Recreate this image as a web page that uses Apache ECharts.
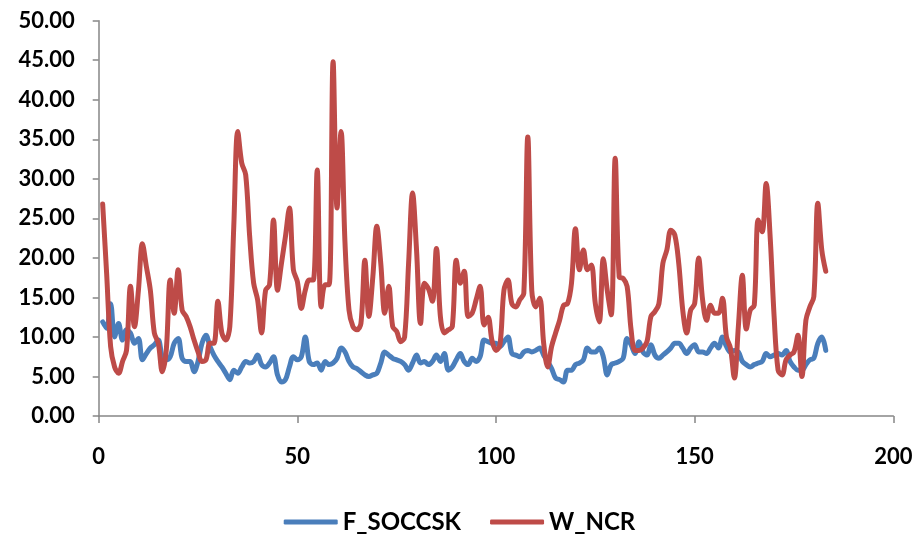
<!DOCTYPE html>
<html><head><meta charset="utf-8">
<script src="https://cdn.jsdelivr.net/npm/echarts@6/dist/echarts.min.js"></script>
<style>html,body{margin:0;padding:0;background:#fff}#c{width:919px;height:541px}</style>
</head><body><div id="c"></div>
<script>
const seriesNames = ['F_SOCCSK', 'W_NCR'];
const xTickValues = [0, 50, 100, 150, 200];
const yTickValues = [0, 5, 10, 15, 20, 25, 30, 35, 40, 45, 50];
const firstX = 1;
const F_SOCCSK = [
11.9,11.1,14.2,10.0,11.7,9.6,10.9,10.5,9.2,9.8,
7.1,7.9,8.6,9.0,9.6,7.5,7.1,7.5,9.2,9.8,
7.3,6.9,6.9,5.6,6.9,9.2,10.2,8.8,7.7,6.9,
6.2,5.4,4.6,5.8,5.4,6.2,6.9,6.7,6.9,7.7,
6.5,6.2,6.7,7.5,5.2,4.3,4.6,6.2,7.5,7.1,
7.5,10.0,6.9,6.5,6.7,5.8,6.9,6.5,6.7,7.3,
8.6,8.1,6.9,6.2,6.0,5.6,5.2,5.0,5.2,5.4,
6.7,8.1,7.7,7.3,7.1,6.9,6.5,5.8,6.7,7.7,
6.7,6.9,6.5,6.9,7.7,6.9,7.9,5.8,6.2,7.1,
7.9,6.9,6.5,7.3,6.9,7.5,9.6,9.4,9.2,9.2,
8.8,9.4,10.0,7.9,7.7,7.5,8.1,8.3,8.1,8.3,
8.6,7.7,6.9,6.0,4.8,4.6,4.3,5.8,5.8,6.5,
6.7,7.1,8.6,8.1,8.1,8.6,7.5,5.2,6.5,6.7,
6.9,7.3,9.8,9.0,7.9,9.4,8.1,7.7,9.0,7.7,
7.3,7.7,8.1,8.6,9.2,9.2,8.6,7.9,8.6,9.0,
8.1,8.1,7.9,8.6,9.2,8.6,10.0,8.8,8.1,8.3,
8.1,6.9,6.5,6.2,6.5,6.7,6.9,7.9,7.5,7.7,
7.9,7.7,8.3,6.9,6.2,5.8,5.8,6.5,7.1,7.3,
9.2,10.0,8.3
];
const W_NCR = [
26.8,18.0,8.8,6.2,5.4,6.9,8.3,16.4,11.3,15.9,
21.8,18.9,15.9,10.5,9.2,5.6,8.3,17.2,13.0,18.5,
13.4,12.6,11.3,9.6,8.1,6.9,7.1,9.2,9.2,14.5,
10.5,9.6,11.3,24.0,36.0,32.0,30.5,22.7,16.8,14.7,
10.5,15.9,16.6,24.8,15.9,19.3,22.7,26.3,18.5,17.0,
13.6,15.9,17.2,17.2,31.1,13.8,16.6,16.6,44.8,26.3,
36.0,21.8,13.4,11.3,10.9,11.7,19.7,12.6,17.6,24.0,
19.3,13.0,16.4,11.3,10.7,9.4,10.0,19.3,28.2,21.0,
11.7,16.8,16.1,14.5,21.2,12.6,10.5,10.9,11.3,19.7,
16.8,18.3,12.6,13.0,14.7,16.4,11.5,12.5,9.5,8.3,
9.0,15.9,17.2,14.2,13.8,14.7,15.5,35.3,15.9,13.8,
14.9,9.2,6.2,8.8,10.5,12.1,14.0,14.2,16.8,23.7,
18.5,21.0,18.5,19.1,14.2,11.9,19.9,15.9,12.8,32.6,
17.6,17.4,16.4,10.9,8.3,8.3,8.6,9.4,12.6,13.2,
14.2,19.3,21.0,23.5,22.9,19.3,13.4,10.5,13.4,14.2,
20.0,14.7,12.1,14.0,13.0,13.0,14.9,10.0,8.6,4.8,
11.3,17.8,11.0,13.4,14.0,24.8,23.3,29.4,22.7,12.6,
5.8,5.2,7.1,7.7,8.1,10.2,5.0,12.1,13.8,15.1,
26.9,21.0,18.3
];

const toPairs = arr => arr.map((v, k) => [firstX + k, v]);
const FONT = 'Lato';
const axisColor = '#868686';
const chart = echarts.init(document.getElementById('c'), null, {renderer: 'canvas'});
chart.setOption({
  animation: false,
  backgroundColor: '#fff',
  grid: {left: 98.7, right: 25.7, top: 20.7, bottom: 125, containLabel: false},
  xAxis: {
    type: 'value', min: xTickValues[0], max: xTickValues[xTickValues.length - 1],
    interval: xTickValues[1] - xTickValues[0],
    axisLine: {show: true, onZero: false, lineStyle: {color: axisColor, width: 1.5}},
    axisTick: {show: true, length: 7, lineStyle: {color: axisColor, width: 1.5}},
    splitLine: {show: false},
    axisLabel: {margin: 30, color: '#000', fontFamily: FONT, fontWeight: 'bold', fontSize: 22}
  },
  yAxis: {
    type: 'value', min: yTickValues[0], max: yTickValues[yTickValues.length - 1],
    interval: yTickValues[1] - yTickValues[0],
    axisLine: {show: true, lineStyle: {color: axisColor, width: 1.5}},
    axisTick: {show: true, length: 6, lineStyle: {color: axisColor, width: 1.5}},
    splitLine: {show: false},
    axisLabel: {margin: 24, color: '#000', fontFamily: FONT, fontWeight: 'bold', fontSize: 22,
      formatter: v => v.toFixed(2)}
  },
  legend: {
    bottom: 2, left: 'center', itemWidth: 54, itemHeight: 5, itemGap: 29,
    icon: 'roundRect',
    textStyle: {color: '#000', fontFamily: FONT, fontWeight: 'bold', fontSize: 24},
    data: seriesNames
  },
  series: [
    {name: seriesNames[0], type: 'line', data: toPairs(F_SOCCSK), smooth: 0.35, symbol: 'none',
     lineStyle: {color: '#4A7EBB', width: 5, cap: 'round', join: 'round'}, itemStyle: {color: '#4A7EBB'}},
    {name: seriesNames[1], type: 'line', data: toPairs(W_NCR), smooth: 0.35, symbol: 'none',
     lineStyle: {color: '#BE4B48', width: 5, cap: 'round', join: 'round'}, itemStyle: {color: '#BE4B48'}}
  ]
});
</script></body></html>
